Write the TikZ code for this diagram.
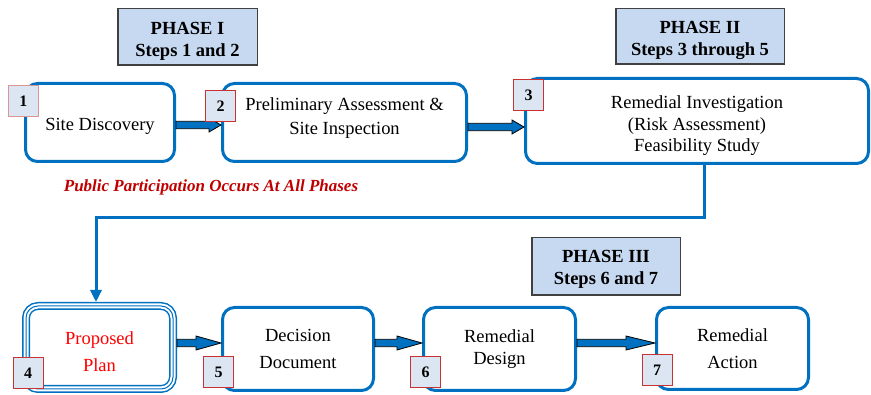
\documentclass[tikz,border=0pt]{standalone}
\usepackage{fontspec}
\setmainfont{Liberation Serif}
\usetikzlibrary{arrows.meta,calc}
\definecolor{stepblue}{HTML}{0070C0}
\definecolor{badgefill}{HTML}{DCE6F2}
\definecolor{badgered}{HTML}{C83232}
\definecolor{badgepink}{HTML}{D99694}
\definecolor{phasefill}{HTML}{C6D9F1}
\definecolor{notered}{HTML}{C00000}

\begin{document}
\begin{tikzpicture}[x=1pt,y=-1pt,
  stepbox/.style={draw=stepblue,line width=3pt,rounded corners=12pt,align=center,
    font=\fontsize{18.5}{24}\selectfont},
  planbox/.style={draw=stepblue,line width=1pt,rounded corners=12pt,align=center,outer sep=4pt,
    font=\fontsize{18.5}{27}\selectfont,text=red,
    preaction={draw=stepblue,line width=8pt},preaction={draw=white,line width=5pt}},
  badge/.style={draw=badgered,fill=badgefill,line width=1pt,minimum width=30pt,minimum height=31pt,
    inner sep=0pt,font=\fontsize{16}{16}\selectfont\bfseries},
  phase/.style={draw=black!75,fill=phasefill,line width=1.5pt,align=center,inner sep=0pt,
    font=\fontsize{18.5}{22}\selectfont\bfseries},
  blockarrow/.style={draw=black,line width=0.8pt,fill=stepblue,
    to path={let \p1=(\tikztostart),\p2=(\tikztotarget) in
      ({\x1},{\y1+3.7pt}) -- ({\x2-#1pt},{\y1+3.7pt}) -- ({\x2-#1pt},{\y1+7pt}) -- ({\x2},{\y1})
      -- ({\x2-#1pt},{\y1-7pt}) -- ({\x2-#1pt},{\y1-3.7pt}) -- ({\x1},{\y1-3.7pt}) -- cycle}},
  flow/.style={draw=stepblue,line width=3pt,-{Triangle[length=12pt,width=11pt]}}]
\useasboundingbox (0,0) rectangle (871,395);

% phases
\node[phase,minimum width=139.5pt,minimum height=56.5pt,text height=39pt,text depth=0pt] (p1) at (187.5,37) {PHASE I\\Steps 1 and 2};
\node[phase,minimum width=168.5pt,minimum height=55.5pt,text height=39pt,text depth=0pt] (p2) at (700,36.5) {PHASE II\\Steps 3 through 5};
\node[phase,minimum width=148.5pt,minimum height=57.5pt,text height=37pt,text depth=0pt] (p3) at (606,266.5) {PHASE III\\Steps 6 and 7};

% steps
\node[stepbox,minimum width=149pt,minimum height=78pt,text height=17pt,text depth=0pt] (b1) at (100,122.5) {Site Discovery};
\node[stepbox,minimum width=244pt,minimum height=78pt,text depth=12pt] (b2) at (344.5,122.5)
  {Preliminary Assessment \&\\Site Inspection};
\node[stepbox,minimum width=343pt,minimum height=85pt,text height=62pt,text depth=0pt,font=\fontsize{18.5}{21.5}\selectfont] (b3) at (697,121)
  {Remedial Investigation\\(Risk Assessment)\\Feasibility Study};
\node[planbox,minimum width=147pt,minimum height=83pt,text height=48pt,text depth=0pt] (b4) at (99.5,347.5) {Proposed\\Plan};
\node[stepbox,minimum width=151pt,minimum height=83pt,font=\fontsize{18.5}{27}\selectfont] (b5) at (298,349)
  {Decision\\Document};
\node[stepbox,minimum width=152pt,minimum height=83pt,font=\fontsize{18.5}{22}\selectfont] (b6) at (499.5,349)
  {Remedial\\Design};
\node[stepbox,minimum width=152pt,minimum height=82pt,font=\fontsize{18.5}{27}\selectfont] (b7) at (732.5,348.5)
  {Remedial\\Action};

\node[text=notered,font=\fontsize{17}{17}\selectfont\bfseries\itshape] (pp) at (211,187)
  {Public Participation Occurs At All Phases};

% connectors
\draw[blockarrow=12] ([yshift=-2.5pt]b1.east) to (b2.west);
\draw[blockarrow=12] ([yshift=-4.5pt]b2.east) to (b3.west);
\draw[blockarrow=25] ([yshift=4.5pt]b4.east) to (b5.west);
\draw[blockarrow=25] ([yshift=6pt]b5.east) to (b6.west);
\draw[blockarrow=29] ([yshift=6pt]b6.east) to (b7.west);
\draw[flow] ([xshift=7pt]b3.south) -- ++(0,53) -| ([xshift=-3.5pt]b4.north);

% step numbers
\node[badge,draw=badgepink] (n1) at (23.5,101.5) {1};
\node[badge] (n2) at (220.5,106) {2};
\node[badge] (n3) at (528.5,95) {3};
\node[badge] (n4) at (28,373) {4};
\node[badge] (n5) at (218.5,372.5) {5};
\node[badge] (n6) at (425.5,372.5) {6};
\node[badge] (n7) at (657,370) {7};
\end{tikzpicture}
\end{document}
